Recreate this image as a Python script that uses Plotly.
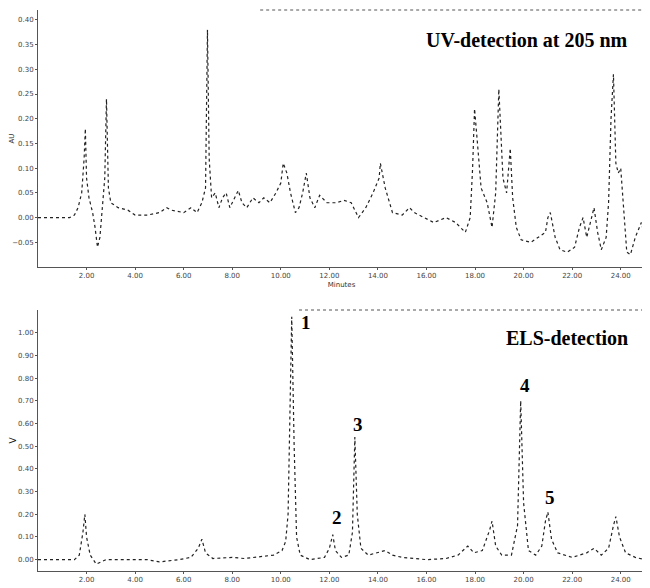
import plotly.graph_objects as go
from plotly.subplots import make_subplots

# UV trace (minutes, AU)
uv_time = [0.0, 1.3, 1.5, 1.65, 1.8, 1.9, 1.95, 2.0, 2.1, 2.25, 2.35, 2.45, 2.55, 2.65, 2.75, 2.82,
           2.9, 3.0, 3.3, 3.7, 4.0, 4.5, 5.0, 5.3, 5.5, 6.0, 6.3, 6.55, 6.75, 6.9, 6.98, 7.05,
           7.15, 7.3, 7.45, 7.6, 7.75, 7.9, 8.1, 8.25, 8.4, 8.6, 8.85, 9.1, 9.3, 9.55, 9.8, 10.0,
           10.1, 10.25, 10.4, 10.6, 10.75, 10.9, 11.05, 11.2, 11.4, 11.6, 11.9, 12.3, 12.6, 12.9,
           13.2, 13.5, 13.8, 14.05, 14.1, 14.3, 14.6, 15.0, 15.3, 15.5, 15.9, 16.3, 16.8, 17.2,
           17.6, 17.8, 17.9, 17.98, 18.1, 18.25, 18.5, 18.7, 18.85, 18.98, 19.15, 19.3, 19.45,
           19.55, 19.7, 19.9, 20.3, 20.6, 20.9, 21.0, 21.1, 21.3, 21.5, 21.8, 22.1, 22.3, 22.45,
           22.6, 22.75, 22.9, 23.05, 23.2, 23.4, 23.5, 23.6, 23.7, 23.8, 23.9, 24.0, 24.1, 24.25,
           24.4, 24.6, 24.85, 25.0]
uv_au = [0.0, 0.0, 0.005, 0.02, 0.05, 0.12, 0.18, 0.08, 0.04, 0.01, -0.02, -0.06, -0.04, 0.02, 0.08, 0.24,
         0.06, 0.03, 0.02, 0.015, 0.005, 0.005, 0.01, 0.02, 0.015, 0.01, 0.02, 0.01, 0.03, 0.06, 0.38, 0.12,
         0.04, 0.05, 0.02, 0.04, 0.05, 0.02, 0.04, 0.055, 0.03, 0.02, 0.04, 0.03, 0.04, 0.03, 0.05, 0.07,
         0.11, 0.09, 0.05, 0.01, 0.02, 0.05, 0.09, 0.04, 0.02, 0.045, 0.03, 0.03, 0.035, 0.03,
         0.0, 0.02, 0.05, 0.08, 0.11, 0.06, 0.01, 0.005, 0.02, 0.01, 0.0, -0.01, 0.0, -0.01,
         -0.03, 0.0, 0.1, 0.22, 0.15, 0.06, 0.03, -0.02, 0.05, 0.26, 0.08, 0.05, 0.14,
         0.04, -0.02, -0.045, -0.05, -0.04, -0.03, 0.0, 0.01, -0.04, -0.065, -0.07, -0.06, -0.02, 0.0,
         -0.04, -0.01, 0.02, -0.03, -0.065, -0.04, 0.03, 0.2, 0.29, 0.11, 0.09, 0.10, 0.03, -0.07,
         -0.075, -0.04, -0.01, -0.04]

# ELS trace (minutes, V)
els_time = [0.0, 1.5, 1.7, 1.85, 1.93, 2.0, 2.15, 2.4, 2.8, 4.5, 5.0, 5.8, 6.3, 6.6, 6.75, 6.9,
            7.2, 8.0, 8.5, 9.2, 9.7, 10.05, 10.2, 10.3, 10.45, 10.55, 10.65, 10.8, 11.2, 11.8,
            12.0, 12.14, 12.25, 12.5, 12.8, 12.95, 13.05, 13.15, 13.3, 13.6, 14.0, 14.3, 14.6,
            15.0, 16.0, 16.8, 17.3, 17.7, 17.95, 18.3, 18.6, 18.7, 18.85, 19.1, 19.5, 19.75,
            19.88, 20.0, 20.2, 20.5, 20.75, 20.9, 21.0, 21.15, 21.4, 22.0, 22.6, 22.9, 23.2,
            23.5, 23.7, 23.8, 23.95, 24.2, 24.6, 25.0]
els_v = [0.0, 0.0, 0.02, 0.12, 0.2, 0.1, 0.02, -0.02, 0.0, 0.0, -0.01, 0.0, 0.01, 0.05, 0.09, 0.03,
         0.005, 0.01, 0.005, 0.015, 0.02, 0.04, 0.08, 0.2, 1.07, 0.5, 0.1, 0.02, 0.0, 0.01,
         0.05, 0.11, 0.04, 0.01, 0.02, 0.12, 0.54, 0.2, 0.05, 0.02, 0.03, 0.04, 0.02,
         0.01, 0.0, 0.005, 0.02, 0.06, 0.03, 0.04, 0.13, 0.17, 0.06, 0.02, 0.02, 0.15,
         0.70, 0.25, 0.04, 0.02, 0.06, 0.17, 0.21, 0.09, 0.03, 0.01, 0.03, 0.05, 0.02,
         0.05, 0.15, 0.19, 0.1, 0.03, 0.01, 0.0]

x_ticks = [2, 4, 6, 8, 10, 12, 14, 16, 18, 20, 22, 24]
x_tick_text = ["2.00", "4.00", "6.00", "8.00", "10.00", "12.00", "14.00", "16.00", "18.00", "20.00", "22.00", "24.00"]
uv_y_ticks = [-0.05, 0.0, 0.05, 0.10, 0.15, 0.20, 0.25, 0.30, 0.35, 0.40]
els_y_ticks = [0.0, 0.1, 0.2, 0.3, 0.4, 0.5, 0.6, 0.7, 0.8, 0.9, 1.0]

peak_labels = ["1", "2", "3", "4", "5"]
peak_times = [10.45, 12.14, 13.05, 19.88, 21.0]
peak_heights = [1.07, 0.11, 0.54, 0.70, 0.21]
# label offsets from each peak apex, in pixels (styling)
label_shifts = [(14, -6), (4, 17), (3, 13), (4, 15), (2, 14)]

W, H = 642, 580  # page adds an 8px body margin

fig = make_subplots(rows=2, cols=1)

line_style = dict(color="#222222", width=1.2, dash="dot")
fig.add_trace(go.Scatter(x=uv_time, y=uv_au, mode="lines", line=line_style, showlegend=False), row=1, col=1)
fig.add_trace(go.Scatter(x=els_time, y=els_v, mode="lines", line=line_style, showlegend=False), row=2, col=1)

tick_font = dict(family="DejaVu Sans", size=7, color="#444444")
axis_common = dict(showgrid=False, zeroline=False, showline=True, linecolor="#555555", linewidth=1,
                   ticks="outside", ticklen=2, tickcolor="#555555", tickfont=tick_font, automargin=False)

fig.update_xaxes(range=[0, 25], tickvals=x_ticks, ticktext=x_tick_text, **axis_common)
fig.update_yaxes(**axis_common)

fig.update_layout(
    width=W, height=H,
    margin=dict(l=30, r=5, t=0, b=0, autoexpand=False),
    plot_bgcolor="white", paper_bgcolor="white",
    xaxis=dict(domain=[0, 1], anchor="y",
               title=dict(text="Minutes", font=dict(family="DejaVu Sans", size=7, color="#333333"), standoff=2)),
    yaxis=dict(domain=[1 - 259 / H, 1 - 2 / H], range=[-0.1, 0.42], tickvals=uv_y_ticks,
               tickformat=".2f",
               title=dict(text="AU", font=dict(family="DejaVu Sans", size=7, color="#333333"), standoff=3)),
    xaxis2=dict(domain=[0, 1], anchor="y2"),
    yaxis2=dict(domain=[1 - 563 / H, 1 - 302 / H], range=[-0.05, 1.1], tickvals=els_y_ticks,
                tickformat=".2f",
                title=dict(text="V", font=dict(family="DejaVu Sans", size=9, color="#111111"), standoff=3)),
)

title_font = dict(family="Liberation Serif", size=20, color="black")
fig.add_annotation(text="<b>UV-detection at 205 nm</b>", xref="paper", yref="paper",
                   x=0.975, y=1 - 32 / H, xanchor="right", yanchor="middle",
                   showarrow=False, font=title_font)
fig.add_annotation(text="<b>ELS-detection</b>", xref="paper", yref="paper",
                   x=0.975, y=1 - 330 / H, xanchor="right", yanchor="middle",
                   showarrow=False, font=title_font)

for lab, t, h, (dx, dy) in zip(peak_labels, peak_times, peak_heights, label_shifts):
    fig.add_annotation(text="<b>" + lab + "</b>", x=t, y=h, xref="x2", yref="y2",
                       showarrow=False, xanchor="center", yanchor="middle", xshift=dx, yshift=dy,
                       font=dict(family="Liberation Serif", size=19, color="black"))

# dotted partial frame at the top of each panel
fig.add_shape(type="line", xref="x domain", yref="y domain", x0=0.366, x1=1, y0=1, y1=1,
              line=dict(color="#555555", width=1, dash="dot"))
fig.add_shape(type="line", xref="x2 domain", yref="y2 domain", x0=0.43, x1=1, y0=1, y1=1,
              line=dict(color="#555555", width=1, dash="dot"))

fig.write_html("out.html")
